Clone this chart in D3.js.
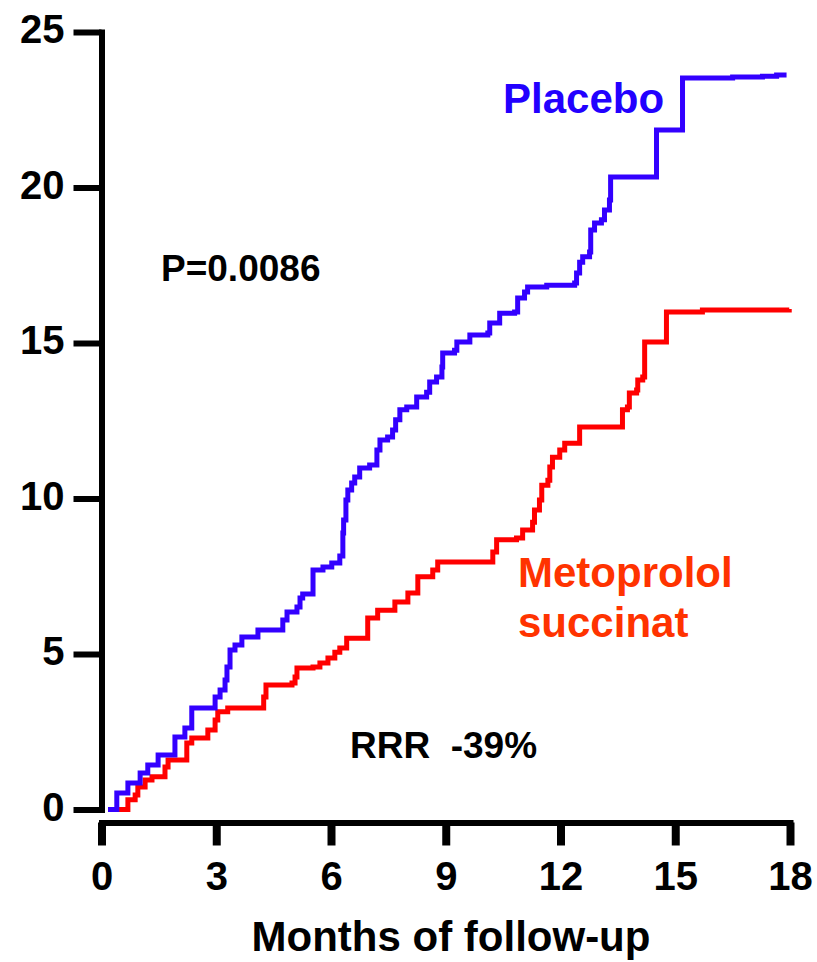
<!DOCTYPE html>
<html>
<head>
<meta charset="utf-8">
<script src="https://cdn.jsdelivr.net/npm/d3@7"></script>
<style>
  html, body { margin: 0; padding: 0; background: #fff; }
  svg { display: block; font-family: "Liberation Sans", Arial, Helvetica, sans-serif; }
</style>
</head>
<body>
<svg id="chart" width="817" height="962"></svg>
<script>
// Cumulative event rate (%) over months of follow-up, step points (month, %)
const placeboMonths = [0.17, 0.40, 0.69, 1.01, 1.21, 1.48, 1.92, 2.18, 2.36, 2.97, 3.10, 3.23, 3.28, 3.36, 3.49, 3.67, 4.09, 4.74, 4.85, 5.11, 5.19, 5.26, 5.53, 5.79, 6.02, 6.23, 6.31, 6.33, 6.39, 6.44, 6.54, 6.62, 6.75, 7.01, 7.20, 7.28, 7.48, 7.61, 7.69, 7.80, 7.98, 8.24, 8.50, 8.58, 8.76, 8.90, 8.92, 9.23, 9.29, 9.63, 10.10, 10.15, 10.41, 10.80, 10.88, 11.06, 11.14, 11.64, 12.37, 12.42, 12.50, 12.58, 12.76, 12.79, 12.89, 13.07, 13.15, 13.28, 13.31, 14.51, 15.19, 16.50, 17.28, 17.65, 17.91];
const placeboPct    = [0, 0.53, 0.85, 1.17, 1.43, 1.75, 2.33, 2.62, 3.26, 3.62, 3.84, 4.16, 4.58, 5.13, 5.29, 5.55, 5.77, 6.09, 6.35, 6.51, 6.80, 6.93, 7.70, 7.80, 7.93, 8.15, 8.89, 9.31, 9.95, 10.27, 10.50, 10.69, 10.98, 11.08, 11.56, 11.88, 11.98, 12.20, 12.53, 12.85, 12.94, 13.26, 13.42, 13.75, 13.91, 14.23, 14.68, 14.77, 15.03, 15.26, 15.32, 15.64, 15.96, 16.00, 16.45, 16.64, 16.80, 16.86, 16.93, 17.25, 17.60, 17.77, 17.93, 18.63, 18.86, 18.96, 19.28, 19.60, 20.34, 21.85, 23.52, 23.55, 23.58, 23.62, 23.62];

const metoMonths = [0.35, 0.69, 0.88, 0.95, 1.14, 1.32, 1.66, 1.74, 2.23, 2.36, 2.78, 2.97, 3.04, 3.30, 4.24, 4.30, 4.98, 5.06, 5.11, 5.53, 5.71, 5.92, 6.10, 6.23, 6.41, 6.96, 7.22, 7.67, 8.01, 8.27, 8.66, 8.79, 10.23, 10.33, 10.85, 11.01, 11.27, 11.32, 11.45, 11.51, 11.67, 11.72, 11.79, 11.98, 12.11, 12.50, 13.62, 13.75, 13.80, 13.99, 14.02, 14.15, 14.20, 14.77, 15.71, 17.98];
const metoPct    = [0, 0.31, 0.47, 0.72, 0.95, 1.05, 1.37, 1.59, 2.14, 2.30, 2.56, 2.88, 3.14, 3.26, 3.62, 4.00, 4.07, 4.26, 4.55, 4.58, 4.71, 4.87, 5.06, 5.19, 5.51, 6.16, 6.41, 6.67, 6.96, 7.48, 7.70, 7.96, 8.28, 8.67, 8.73, 8.99, 9.24, 9.63, 9.95, 10.43, 10.59, 11.01, 11.33, 11.56, 11.78, 12.30, 12.85, 12.94, 13.39, 13.49, 13.81, 13.91, 15.03, 16.00, 16.06, 16.09];

const xTicks = [0, 3, 6, 9, 12, 15, 18];
const yTicks = [0, 5, 10, 15, 20, 25];
const xTitle = "Months of follow-up";

const svg = d3.select("#chart");

const x = d3.scaleLinear().domain([0, 18]).range([101.5, 790]);
const y = d3.scaleLinear().domain([0, 25]).range([809.5, 32]);

// Y axis
const yAxis = svg.append("g")
  .attr("transform", `translate(${x(0)},0)`)
  .call(d3.axisLeft(y).tickValues(yTicks).tickSize(28).tickSizeOuter(0).tickPadding(9).tickFormat(d3.format("d")));
yAxis.select(".domain").attr("stroke", "#000").attr("stroke-width", 6).attr("stroke-linecap", "square");
yAxis.selectAll(".tick line").attr("stroke", "#000").attr("stroke-width", 6);
yAxis.selectAll(".tick text")
  .attr("fill", "#000").attr("font-size", 40).attr("font-weight", "bold")
  .attr("font-family", "'Liberation Sans', Arial, sans-serif").attr("dy", "0.27em");

// X axis, drawn offset below the plot
const xAxis = svg.append("g")
  .attr("transform", "translate(0,822.5)")
  .call(d3.axisBottom(x).tickValues(xTicks).tickSize(23).tickSizeOuter(0).tickPadding(16).tickFormat(d3.format("d")));
xAxis.select(".domain").attr("stroke", "#000").attr("stroke-width", 6).attr("stroke-linecap", "square");
xAxis.selectAll(".tick line").attr("stroke", "#000").attr("stroke-width", 8);
xAxis.selectAll(".tick text")
  .attr("fill", "#000").attr("font-size", 40).attr("font-weight", "bold")
  .attr("font-family", "'Liberation Sans', Arial, sans-serif");

svg.append("text")
  .attr("x", 451).attr("y", 951)
  .attr("text-anchor", "middle")
  .attr("font-size", 42).attr("font-weight", "bold").attr("fill", "#000")
  .text(xTitle);

// Kaplan-Meier style step curves
const line = d3.line()
  .x(d => x(d[0]))
  .y(d => y(d[1]))
  .curve(d3.curveStepAfter);

const placebo = placeboMonths.map((m, i) => [m, placeboPct[i]]);
const meto = metoMonths.map((m, i) => [m, metoPct[i]]);

svg.append("path").datum(meto)
  .attr("d", line).attr("fill", "none")
  .attr("stroke", "#ff0000").attr("stroke-width", 5);

svg.append("path").datum(placebo)
  .attr("d", line).attr("fill", "none")
  .attr("stroke", "#3300ff").attr("stroke-width", 5);

// Annotations
const labels = [
  { text: "Placebo", x: 503, y: 113, size: 42, color: "#2200ff" },
  { text: "P=0.0086", x: 161, y: 281, size: 37, color: "#000" },
  { text: "Metoprolol", x: 518, y: 587, size: 42, color: "#ff3300" },
  { text: "succinat", x: 518, y: 637, size: 42, color: "#ff3300" },
  { text: "RRR  -39%", x: 350, y: 758, size: 37, color: "#000" }
];
svg.selectAll("text.note").data(labels).enter().append("text")
  .attr("class", "note")
  .attr("x", d => d.x).attr("y", d => d.y)
  .attr("font-size", d => d.size).attr("font-weight", "bold")
  .attr("fill", d => d.color)
  .attr("xml:space", "preserve")
  .style("white-space", "pre")
  .text(d => d.text);
</script>
</body>
</html>
